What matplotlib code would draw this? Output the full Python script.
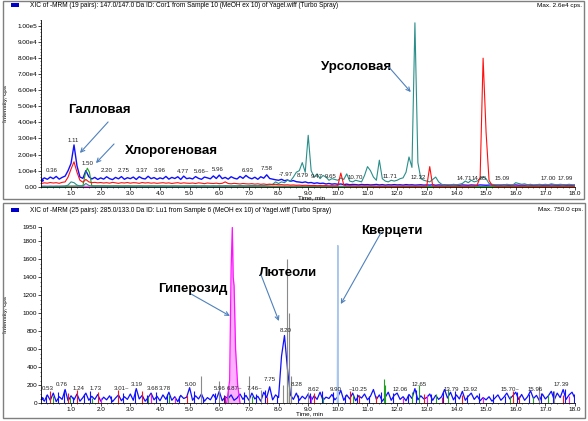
import numpy as np
import matplotlib
matplotlib.use("Agg")
import matplotlib.pyplot as plt
from matplotlib.patches import Rectangle
from matplotlib.ticker import FuncFormatter, MultipleLocator

plt.rcParams['font.family'] = ['Liberation Sans', 'DejaVu Sans']

W, H = 588, 421

# ---------------- top panel data (intensity in 1e4 cps) ----------------
top_t = np.round(np.arange(0, 18.05, 0.1), 2)

top_blue = [
    0.42, 0.55, 0.46, 0.60, 0.50, 0.64, 0.47, 0.58, 0.66, 1.00,
    1.45, 2.60, 1.30, 0.60, 0.52, 1.00, 0.62, 0.48, 0.58, 0.45,
    0.55, 0.47, 0.62, 0.50, 0.44, 0.58, 0.49, 0.63, 0.46, 0.56,
    0.50, 0.60, 0.45, 0.62, 0.52, 0.48, 0.65, 0.50, 0.57, 0.46,
    0.55, 0.49, 0.64, 0.47, 0.58, 0.51, 0.62, 0.45, 0.66, 0.50,
    0.54, 0.48, 0.63, 0.52, 0.46, 0.60, 0.55, 0.49, 0.67, 0.51,
    0.72, 0.50, 0.58, 0.47, 0.62, 0.53, 0.48, 0.64, 0.52, 0.70,
    0.56, 0.49, 0.59, 0.46, 0.62, 0.53, 0.74, 0.51, 0.47, 0.43,
    0.40, 0.46, 0.37, 0.42, 0.34, 0.38, 0.31, 0.29, 0.26, 0.30,
    0.24, 0.26, 0.21, 0.24, 0.20, 0.22, 0.17, 0.20, 0.16, 0.18,
    0.15, 0.17, 0.13, 0.16, 0.12, 0.14, 0.13, 0.11, 0.14, 0.12,
    0.13, 0.11, 0.12, 0.14, 0.11, 0.13, 0.10, 0.12, 0.11, 0.13,
    0.11, 0.12, 0.10, 0.13, 0.11, 0.12, 0.10, 0.11, 0.12, 0.10,
    0.11, 0.10, 0.12, 0.09, 0.11, 0.10, 0.11, 0.09, 0.10, 0.11,
    0.10, 0.09, 0.11, 0.10, 0.09, 0.11, 0.10, 0.09, 0.11, 0.10,
    0.09, 0.10, 0.11, 0.09, 0.10, 0.09, 0.11, 0.10, 0.09, 0.10,
    0.11, 0.09, 0.10, 0.09, 0.11, 0.10, 0.09, 0.10, 0.11, 0.09,
    0.10, 0.09, 0.11, 0.10, 0.09, 0.10, 0.11, 0.09, 0.10, 0.09,
    0.10,
]

top_red = [
    0.20, 0.24, 0.22, 0.26, 0.23, 0.25, 0.21, 0.27, 0.30, 0.60,
    1.10, 1.55, 0.90, 0.40, 0.28, 0.45, 0.30, 0.25, 0.27, 0.24,
    0.26, 0.23, 0.25, 0.22, 0.27, 0.24, 0.21, 0.25, 0.23, 0.26,
    0.22, 0.25, 0.24, 0.21, 0.26, 0.23, 0.25, 0.22, 0.24, 0.21,
    0.23, 0.25, 0.22, 0.24, 0.20, 0.23, 0.25, 0.21, 0.24, 0.22,
    0.21, 0.23, 0.20, 0.24, 0.22, 0.19, 0.23, 0.21, 0.20, 0.22,
    0.19, 0.21, 0.30, 0.20, 0.18, 0.21, 0.19, 0.17, 0.20, 0.18,
    0.17, 0.19, 0.16, 0.18, 0.15, 0.17, 0.14, 0.16, 0.13, 0.15,
    0.12, 0.13, 0.11, 0.12, 0.10, 0.11, 0.09, 0.10, 0.08, 0.09,
    0.08, 0.07, 0.08, 0.06, 0.07, 0.06, 0.07, 0.05, 0.06, 0.05,
    0.06, 0.85, 0.10, 0.05, 0.06, 0.05, 0.04, 0.05, 0.04, 0.05,
    0.04, 0.05, 0.04, 0.03, 0.04, 0.03, 0.04, 0.03, 0.04, 0.03,
    0.03, 0.04, 0.03, 0.04, 0.03, 0.04, 0.03, 0.03, 0.04, 0.03,
    0.05, 1.25, 0.05, 0.03, 0.04, 0.03, 0.03, 0.04, 0.03, 0.03,
    0.04, 0.03, 0.04, 0.03, 0.04, 0.05, 0.04, 0.10, 0.60, 8.00,
    3.40, 0.40, 0.08, 0.04, 0.03, 0.04, 0.03, 0.04, 0.03, 0.04,
    0.03, 0.04, 0.03, 0.04, 0.03, 0.04, 0.03, 0.03, 0.04, 0.03,
    0.03, 0.04, 0.03, 0.04, 0.03, 0.03, 0.04, 0.03, 0.04, 0.03,
    0.03,
]

top_teal = [
    0.02, 0.03, 0.02, 0.03, 0.02, 0.03, 0.02, 0.03, 0.04, 0.10,
    0.30, 0.25, 0.10, 0.05, 0.04, 0.20, 0.08, 0.04, 0.03, 0.04,
    0.03, 0.04, 0.03, 0.02, 0.03, 0.04, 0.03, 0.02, 0.03, 0.04,
    0.03, 0.02, 0.03, 0.04, 0.03, 0.02, 0.03, 0.04, 0.03, 0.02,
    0.03, 0.04, 0.03, 0.02, 0.03, 0.04, 0.03, 0.02, 0.03, 0.04,
    0.03, 0.04, 0.05, 0.03, 0.04, 0.05, 0.04, 0.03, 0.05, 0.04,
    0.05, 0.04, 0.06, 0.05, 0.04, 0.06, 0.05, 0.07, 0.06, 0.05,
    0.06, 0.08, 0.07, 0.06, 0.09, 0.08, 0.10, 0.12, 0.15, 0.30,
    0.20, 0.30, 0.25, 0.40, 0.35, 0.60, 0.90, 1.00, 1.50, 0.90,
    3.20, 1.00, 0.60, 0.80, 0.50, 0.70, 0.60, 0.40, 0.50, 0.45,
    0.40, 0.55, 0.45, 0.80, 0.35, 0.30, 0.40, 0.35, 0.30, 0.70,
    1.25, 1.00, 0.60, 0.40, 1.65, 0.50, 0.35, 0.30, 0.40, 0.35,
    0.40, 0.50, 0.55, 0.90, 1.85, 1.20, 10.20, 1.50, 0.50, 0.40,
    0.35, 0.30, 0.45, 0.60, 0.30, 0.15, 0.10, 0.12, 0.10, 0.15,
    0.12, 0.15, 0.20, 0.35, 0.25, 0.40, 0.30, 0.35, 0.50, 0.60,
    0.50, 0.20, 0.15, 0.12, 0.10, 0.12, 0.10, 0.15, 0.12, 0.10,
    0.25, 0.20, 0.15, 0.18, 0.12, 0.15, 0.10, 0.12, 0.15, 0.12,
    0.15, 0.12, 0.18, 0.14, 0.12, 0.15, 0.13, 0.12, 0.15, 0.12,
    0.10,
]

top_green_t = [0.0, 1.40, 1.48, 1.55, 1.62, 1.70, 18.0]
top_green = [0.0, 0.05, 0.80, 1.15, 0.90, 0.05, 0.0]

top_mag_t = [0.0, 4.0, 8.0, 12.0, 18.0]
top_mag = [0.03, 0.03, 0.02, 0.02, 0.02]

top_lbl = ["0.36", "1.11", "1.50", "2.20", "2.75", "3.37", "3.96", "4.77", "5.66~",
           "5.96", "6.93", "7.58", "-7.97", "8.79", "9.47", "9.65", "10.70", "11.71",
           "12.32", "14.71", "14.85", "15.09", "17.00", "17.99"]
top_lbl_t = [0.35, 1.06, 1.55, 2.20, 2.79, 3.38, 3.98, 4.79, 5.40,
             5.96, 6.97, 7.60, 8.25, 8.80, 9.30, 9.75, 10.60, 11.76,
             12.70, 14.26, 14.78, 15.55, 17.10, 17.68]
top_lbl_y = [0.85, 2.74, 1.29, 0.87, 0.85, 0.87, 0.85, 0.80, 0.80,
             0.93, 0.87, 1.00, 0.60, 0.55, 0.50, 0.50, 0.42, 0.50,
             0.42, 0.35, 0.35, 0.35, 0.35, 0.35]

# ---------------- bottom panel data (cps) ----------------
bot_t = np.round(np.arange(0, 18.05, 0.1), 2)
bot_blue = [
    60, 20, 90, 30, 110, 15, 70, 40, 150, 25,
    80, 35, 100, 20, 60, 110, 30, 75, 40, 95,
    20, 65, 35, 80, 15, 55, 90, 25, 70, 40,
    100, 30, 160, 45, 85, 20, 60, 110, 35, 75,
    25, 90, 40, 120, 30, 70, 15, 85, 50, 65,
    170, 30, 80, 45, 100, 20, 60, 35, 95, 40,
    130, 25, 70, 50, 90, 30, 55, 100, 40, 85,
    30, 110, 45, 75, 20, 120, 60, 180, 35, 90,
    60, 520, 750, 380, 90, 40, 110, 30, 75, 45,
    100, 25, 80, 40, 120, 30, 65, 50, 95, 35,
    70, 140, 30, 90, 45, 110, 25, 80, 55, 100,
    35, 75, 150, 40, 90, 20, 65, 120, 30, 85,
    110, 40, 70, 25, 95, 50, 160, 35, 80, 45,
    60, 100, 30, 85, 40, 70, 150, 55, 120, 35,
    90, 45, 130, 30, 75, 110, 40, 80, 25, 60,
    35, 70, 20, 55, 90, 30, 65, 110, 45, 80,
    120, 40, 95, 30, 70, 135, 50, 85, 25, 100,
    45, 80, 130, 35, 110, 60, 150, 40, 90, 120,
    50,
]

# extra blue spikes between grid points
bot_blue_spk_t = [0.15, 0.55, 0.75, 1.05, 1.45, 1.65, 2.35, 2.75, 3.15, 3.55, 3.85,
                  4.25, 4.65, 5.15, 5.45, 5.85, 6.15, 6.85, 7.25, 7.55, 7.95,
                  8.65, 9.05, 9.45, 9.85, 10.25, 10.65, 11.05, 11.45, 11.85, 12.35,
                  12.65, 13.15, 13.55, 13.95, 14.35, 14.75, 15.25, 15.65, 16.05,
                  16.45, 16.85, 17.25, 17.65, 17.95]
bot_blue_spk = [90, 120, 150, 70, 100, 130, 80, 110, 140, 90, 120,
                100, 80, 130, 70, 110, 90, 120, 100, 140, 80,
                90, 110, 130, 120, 90, 100, 80, 120, 110, 90,
                150, 100, 120, 130, 90, 110, 100, 80, 120,
                100, 110, 130, 160, 100]

bot_red_t = [0.3, 0.9, 1.2, 1.9, 2.6, 3.4, 3.7, 4.9, 6.2, 7.6, 8.35, 9.2, 10.4,
             10.7, 11.3, 12.9, 13.5, 14.2, 15.9, 16.1, 16.8, 17.6]
bot_red = [130, 110, 150, 120, 140, 130, 100, 90, 80, 70, 120, 110, 130,
           90, 80, 100, 70, 90, 130, 80, 110, 90]

bot_green_t = [0.4, 0.95, 1.7, 3.6, 4.3, 7.1, 8.3, 8.36, 9.5, 10.5, 11.55, 11.6,
               12.5, 12.75, 13.3, 13.7, 15.8, 16.6, 17.1]
bot_green = [80, 70, 60, 70, 90, 80, 400, 250, 70, 90, 270, 200,
             120, 200, 100, 140, 80, 70, 90]

bot_gray_t = [5.4, 6.0, 6.3, 7.0, 7.4, 8.15, 8.30, 8.36, 8.42, 9.0, 16.8, 17.3]
bot_gray = [300, 250, 150, 300, 150, 200, 1600, 1000, 300, 120, 190, 130]

bot_mag_t = [2.0, 3.7, 4.5, 9.1, 12.2, 13.0, 14.9, 17.8]
bot_mag = [60, 90, 70, 80, 60, 90, 70, 80]

hyp_t = [6.25, 6.35, 6.40, 6.44, 6.47, 6.50, 6.55, 6.62, 6.70]
hyp = [0, 250, 1500, 1950, 1400, 1300, 600, 200, 0]

quer_t = [9.98, 10.0, 10.02]
quer = [0, 1750, 0]

bot_lbl = ["0.53", "0.76", "1.24", "1.73", "3.01~", "3.19", "3.68", "3.78", "5.00",
           "5.96", "6.87~", "7.46~", "7.75", "8.20", "8.28", "8.62", "9.90", "~10.25",
           "12.06", "12.65", "13.79", "13.92", "15.70~", "15.96", "17.39"]
bot_lbl_t = [0.20, 0.68, 1.27, 1.83, 2.71, 3.21, 3.76, 4.17, 5.03,
             6.00, 6.53, 7.20, 7.71, 8.25, 8.61, 9.17, 9.94, 10.69,
             12.09, 12.75, 13.84, 14.46, 15.80, 16.65, 17.55]
bot_lbl_y = [133, 178, 133, 133, 133, 178, 133, 133, 178,
             133, 133, 133, 228, 781, 180, 122, 122, 122,
             122, 178, 122, 122, 122, 122, 178]

BLUE = "#1010ff"
RED = "#ff1010"
TEAL = "#2a8e8a"
GREEN = "#22a022"
GRAY = "#8a8a8a"
MAG = "#ff10ff"
PALE = "#a9c6ee"
ARROW = "#4f81bd"


def px(x, y):
    return x / W, 1 - y / H


def e_fmt(v, pos):
    if v == 0:
        return "0.00"
    e = int(np.floor(np.log10(v) + 1e-9))
    return "%.2fe%d" % (v / 10 ** e, e)


def style_axes(ax):
    ax.spines['top'].set_visible(False)
    ax.spines['right'].set_visible(False)
    for s in ['left', 'bottom']:
        ax.spines[s].set_linewidth(0.6)
    ax.set_xlim(0, 18)
    ax.set_xticks(np.arange(1, 19, 1.0))
    ax.xaxis.set_major_formatter(FuncFormatter(lambda v, p: "%.1f" % v))
    ax.xaxis.set_minor_locator(MultipleLocator(0.2))
    ax.tick_params(axis='both', which='major', labelsize=4.6, length=2, width=0.5, pad=1.0)
    ax.tick_params(axis='both', which='minor', length=1, width=0.4)
    ax.patch.set_alpha(0)


fig = plt.figure(figsize=(W / 100, H / 100), dpi=100)

# panel frames
for (x0, y0, x1, y1) in [(3, 1, 584, 199), (3, 203, 585, 418)]:
    fig.patches.append(Rectangle(px(x0, y1), (x1 - x0) / W, (y1 - y0) / H,
                                 transform=fig.transFigure, fill=False,
                                 edgecolor="#7f7f7f", linewidth=1.0))

# ---------------- top panel ----------------
ax1 = fig.add_axes([41.4 / W, 1 - 186.7 / H, 533.6 / W, 167.1 / H])
style_axes(ax1)
ax1.set_ylim(0, 1.04e5)
ax1.set_yticks(np.arange(0, 1.01e5, 1e4))
ax1.yaxis.set_minor_locator(MultipleLocator(2e3))
ax1.yaxis.set_major_formatter(FuncFormatter(e_fmt))

sc = 1e4
ax1.plot(top_t, np.array(top_blue) * sc, color=BLUE, lw=1.0,
         marker='>', markevery=[0], ms=3)
ax1.plot(top_mag_t, np.array(top_mag) * sc, color=MAG, lw=0.7)
ax1.plot(top_green_t, np.array(top_green) * sc, color=GREEN, lw=0.8)
ax1.plot(top_t, np.array(top_teal) * sc, color=TEAL, lw=0.8)
ax1.plot(top_t, np.array(top_red) * sc, color=RED, lw=0.8)

for s, t, v in zip(top_lbl, top_lbl_t, top_lbl_y):
    ax1.text(t, v * sc, s, fontsize=4.4, ha='center', va='bottom', color='#222222')

ax1.set_ylabel("Intensity, cps", fontsize=4.6)
ax1.yaxis.set_label_coords(-0.062, 0.5)
fig.text(*px(311, 197.5), "Time, min", fontsize=4.5, ha='center', va='center')

big = dict(fontsize=9.5, fontweight='bold', color='black', ha='center', va='center')
ax1.text(1.94, 4.77e4, "Галловая", **big)
ax1.text(4.37, 2.22e4, "Хлорогеновая", **big)
ax1.text(10.61, 7.45e4, "Урсоловая", **big)
arr = dict(arrowstyle='->', color=ARROW, lw=0.8, shrinkA=0, shrinkB=0, mutation_scale=7)
ax1.annotate("", xy=(1.30, 2.10e4), xytext=(2.25, 4.03e4), arrowprops=arr)
ax1.annotate("", xy=(1.84, 1.47e4), xytext=(2.45, 2.66e4), arrowprops=arr)
ax1.annotate("", xy=(12.46, 5.89e4), xytext=(11.72, 7.45e4), arrowprops=arr)

fig.patches.append(Rectangle(px(11, 7), 8 / W, 4 / H, transform=fig.transFigure,
                             facecolor='#0000cc', edgecolor='none'))
fig.text(*px(30, 5.5), "XIC of -MRM (19 pairs): 147.0/147.0 Da ID: Cor1 from Sample 10 "
         "(MeOH ex 10) of Yagel.wiff (Turbo Spray)", fontsize=4.7, ha='left', va='center')
fig.text(*px(582, 5.5), "Max. 2.6e4 cps.", fontsize=4.6, ha='right', va='center')

# ---------------- bottom panel ----------------
ax2 = fig.add_axes([41.4 / W, 18 / H, 533.6 / W, 176.4 / H])
style_axes(ax2)
ax2.set_ylim(0, 1960)
ax2.set_yticks(list(range(0, 1801, 200)) + [1950])
ax2.yaxis.set_minor_locator(MultipleLocator(50))
ax2.yaxis.set_major_formatter(FuncFormatter(lambda v, p: "%d" % v))

ax2.plot(bot_t, bot_blue, color=BLUE, lw=0.9, marker='>', markevery=[0], ms=3)
ax2.vlines(bot_blue_spk_t, 0, bot_blue_spk, color=BLUE, lw=0.8)
ax2.vlines(bot_red_t, 0, bot_red, color=RED, lw=0.8)
ax2.vlines(bot_green_t, 0, bot_green, color=GREEN, lw=0.8)
ax2.vlines(bot_mag_t, 0, bot_mag, color=MAG, lw=0.8)
ax2.vlines(bot_gray_t, 0, bot_gray, color=GRAY, lw=0.8)
ax2.fill_between(hyp_t, hyp, color="#ffb0ff", lw=0)
ax2.plot(hyp_t, hyp, color=MAG, lw=0.9)
ax2.plot(quer_t, quer, color=PALE, lw=0.9)

for s, t, v in zip(bot_lbl, bot_lbl_t, bot_lbl_y):
    ax2.text(t, v, s, fontsize=4.4, ha='center', va='bottom', color='#222222')

ax2.set_ylabel("Intensity, cps", fontsize=4.6)
ax2.yaxis.set_label_coords(-0.062, 0.5)
fig.text(*px(309, 413.5), "Time, min", fontsize=4.5, ha='center', va='center')

ax2.text(5.11, 1267, "Гиперозид", **big)
ax2.text(8.32, 1444, "Лютеоли", **big)
ax2.text(11.82, 1911, "Кверцети", **big)
ax2.annotate("", xy=(6.36, 967), xytext=(5.05, 1211), arrowprops=arr)
ax2.annotate("", xy=(8.01, 911), xytext=(7.41, 1422), arrowprops=arr)
ax2.annotate("", xy=(10.10, 1100), xytext=(11.45, 1889), arrowprops=arr)

fig.patches.append(Rectangle(px(11, 212), 8 / W, 4 / H, transform=fig.transFigure,
                             facecolor='#0000cc', edgecolor='none'))
fig.text(*px(30, 210), "XIC of -MRM (25 pairs): 285.0/133.0 Da ID: Lu1 from Sample 6 "
         "(MeOH ex 10) of Yagel.wiff (Turbo Spray)", fontsize=4.7, ha='left', va='center')
fig.text(*px(583, 210), "Max. 750.0 cps.", fontsize=4.6, ha='right', va='center')

fig.savefig("out.png", dpi=100)
